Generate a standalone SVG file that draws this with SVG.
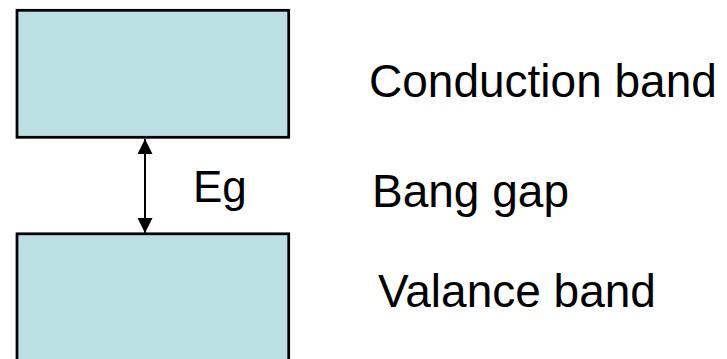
<svg xmlns="http://www.w3.org/2000/svg" width="727" height="359" viewBox="0 0 727 359">
  <style>
    .band { fill: #BBE0E3; stroke: #000000; stroke-width: 2.75; }
    .lbl { font-family: "Liberation Sans", Arial, sans-serif; fill: #000000; font-size: 46px; }
  </style>
  <defs>
    <marker id="ah" viewBox="0 0 15 15" refX="15" refY="7.5" markerWidth="15" markerHeight="15" markerUnits="userSpaceOnUse" orient="auto-start-reverse">
      <path d="M0,0 L15,7.5 L0,15 Z" fill="#000000"/>
    </marker>
  </defs>
  <g id="conduction-band">
    <rect class="band" x="17" y="10.3" width="271.7" height="127"/>
  </g>
  <g id="valance-band">
    <rect class="band" x="17" y="233.8" width="271.7" height="140"/>
  </g>
  <g id="connectors">
    <line x1="145" y1="139" x2="145" y2="233" stroke="#000000" stroke-width="2" marker-start="url(#ah)" marker-end="url(#ah)"/>
  </g>
  <g id="labels">
    <text class="lbl" x="193" y="202" style="font-size:44px">Eg</text>
    <text class="lbl" x="369" y="97">Conduction band</text>
    <text class="lbl" x="372" y="207">Bang gap</text>
    <text class="lbl" x="378" y="307">Valance band</text>
  </g>
</svg>
